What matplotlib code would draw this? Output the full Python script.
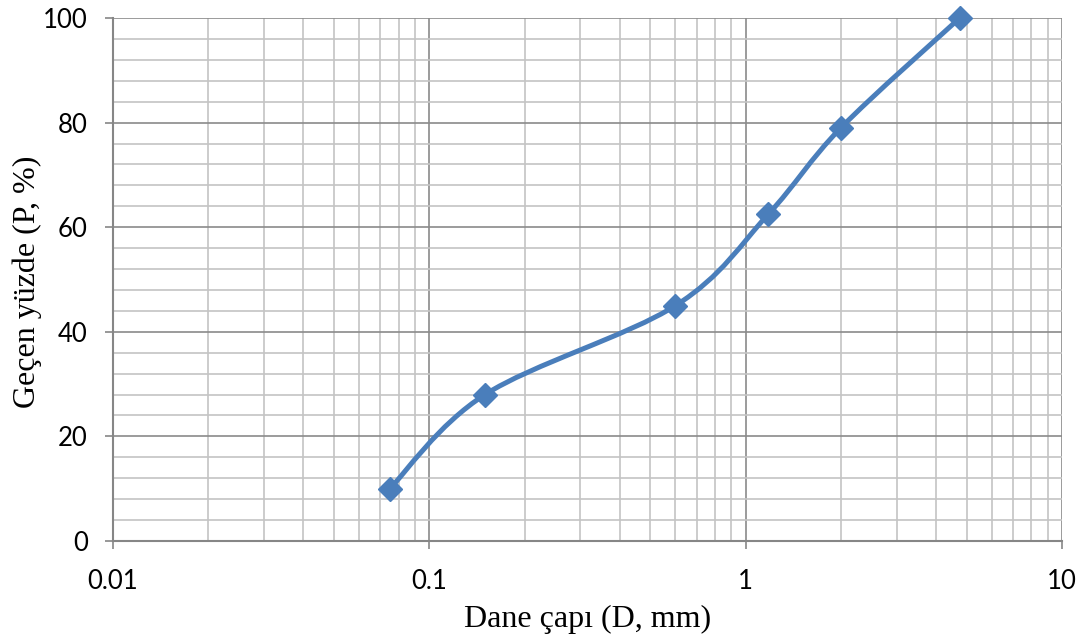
import numpy as np
import matplotlib
matplotlib.use('Agg')
import matplotlib.pyplot as plt
from matplotlib.path import Path
from matplotlib.patches import PathPatch
from matplotlib.ticker import FixedLocator, MultipleLocator, FixedFormatter

# sieve sizes (mm) and percent passing
diameter = [0.075, 0.15, 0.6, 1.18, 2.0, 4.75]
passing = [10, 28, 45, 62.5, 79, 100]

x_ticks = [0.01, 0.1, 1, 10]
x_labels = ['0.01', '0.1', '1', '10']

blue = '#4a7ebb'

fig = plt.figure(figsize=(10.83, 6.39), dpi=100)
ax = fig.add_axes([0.1043, 0.1534, 0.8763, 0.8184])
ax.set_xscale('log')
ax.set_xlim(0.01, 10)
ax.set_ylim(0, 100)

ax.xaxis.set_major_locator(FixedLocator(x_ticks))
ax.xaxis.set_major_formatter(FixedFormatter(x_labels))
minors = [m * d for d in [0.01, 0.1, 1] for m in range(2, 10)]
ax.xaxis.set_minor_locator(FixedLocator(minors))
ax.xaxis.set_minor_formatter(FixedFormatter([''] * len(minors)))
ax.yaxis.set_major_locator(MultipleLocator(20))
ax.yaxis.set_minor_locator(MultipleLocator(4))

ax.grid(True, which='minor', color='#c4c4c4', lw=1.2)
ax.grid(True, which='major', color='#8a8a8a', lw=1.2)
ax.set_axisbelow(True)
for s in ['top', 'right']:
    ax.spines[s].set_visible(False)
for s in ['left', 'bottom']:
    ax.spines[s].set_color('#868686')
    ax.spines[s].set_linewidth(1.5)
ax.tick_params(which='major', direction='out', length=6, color='#868686',
               width=1.2, labelsize=18.5)
ax.tick_params(which='minor', length=0)
for lab in ax.get_xticklabels() + ax.get_yticklabels():
    lab.set_family('Lato')
ax.tick_params(axis='x', pad=14)
ax.tick_params(axis='y', pad=12)

# smoothed line like Excel (Catmull-Rom bezier, computed in axes space)
to_axes = ax.transData + ax.transAxes.inverted()
bbox = ax.get_window_extent()
W, H = bbox.width, bbox.height
pts = to_axes.transform(np.column_stack([diameter, passing]))
pts = pts * [W, H]
verts = [pts[0]]
codes = [Path.MOVETO]
n = len(pts)
for i in range(n - 1):
    p0 = pts[i - 1] if i > 0 else pts[i]
    p1 = pts[i]
    p2 = pts[i + 1]
    p3 = pts[i + 2] if i + 2 < n else pts[i + 1]
    c1 = p1 + (p2 - p0) / 6
    c2 = p2 - (p3 - p1) / 6
    verts += [c1, c2, p2]
    codes += [Path.CURVE4] * 3
verts = np.array(verts) / [W, H]
curve = PathPatch(Path(verts, codes), transform=ax.transAxes, fill=False,
                  edgecolor=blue, lw=3.6, capstyle='round', joinstyle='round',
                  zorder=3, clip_on=False)
ax.add_patch(curve)
ax.plot(diameter, passing, ls='none', marker='D', ms=12, color=blue,
        zorder=4, clip_on=False)

ax.set_xlabel('Dane çapı (D, mm)', family='Liberation Serif', fontsize=23)
ax.set_ylabel('Geçen yüzde (P, %)', family='Liberation Serif', fontsize=23)
ax.xaxis.set_label_coords(0.5, -0.151)
ax.xaxis.label.set_verticalalignment('center')
ax.yaxis.set_label_coords(-0.0906, 0.495)
ax.yaxis.label.set_verticalalignment('center')

plt.savefig('out.png', dpi=100)
